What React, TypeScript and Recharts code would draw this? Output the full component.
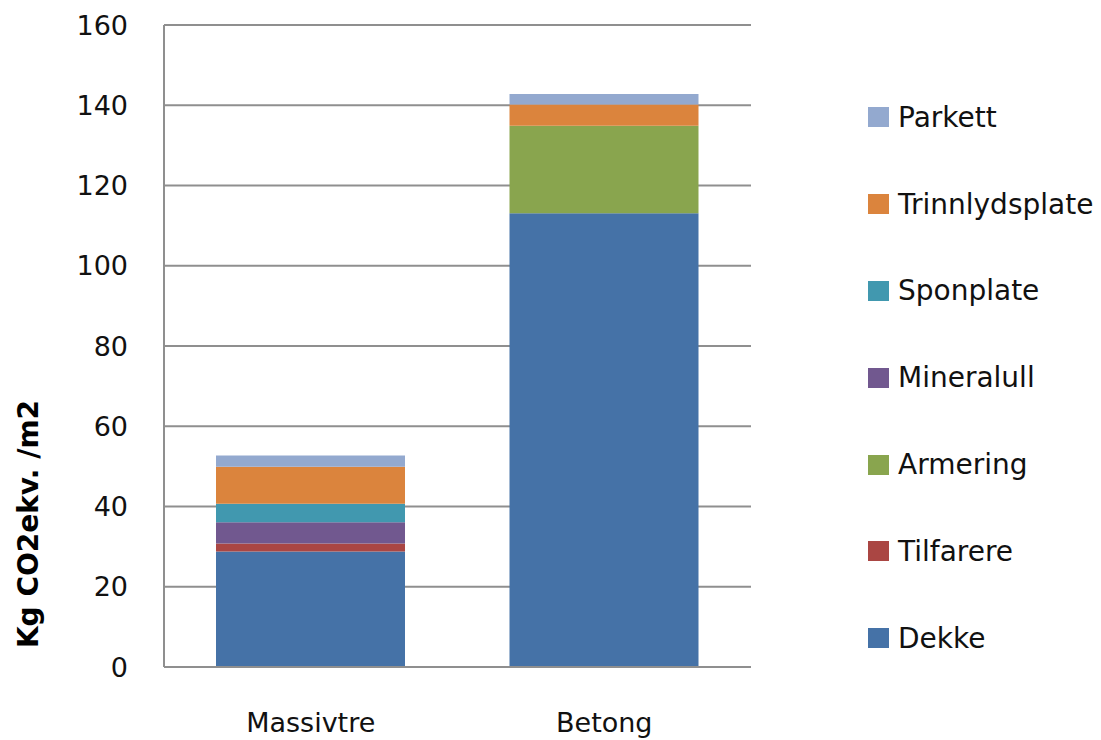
import React from 'react';
import {
  BarChart,
  Bar,
  XAxis,
  YAxis,
  CartesianGrid,
} from 'recharts';

const categories = ['Massivtre', 'Betong'];
const dekke = [28.8, 113.1];
const tilfarere = [2.0, 0];
const armering = [0, 21.8];
const mineralull = [5.3, 0];
const sponplate = [4.6, 0];
const trinnlydsplate = [9.2, 5.3];
const parkett = [2.8, 2.6];
const yTicks = [0, 20, 40, 60, 80, 100, 120, 140, 160];

// bottom to top in the stack
const series = [
  { key: 'Dekke', values: dekke, color: '#4572A7' },
  { key: 'Tilfarere', values: tilfarere, color: '#AA4643' },
  { key: 'Armering', values: armering, color: '#89A54E' },
  { key: 'Mineralull', values: mineralull, color: '#71588F' },
  { key: 'Sponplate', values: sponplate, color: '#4198AF' },
  { key: 'Trinnlydsplate', values: trinnlydsplate, color: '#DB843D' },
  { key: 'Parkett', values: parkett, color: '#93A9CF' },
];

const data = categories.map((name, i) => {
  const row: Record<string, string | number> = { name };
  series.forEach((s) => {
    row[s.key] = s.values[i];
  });
  return row;
});

const font = '"DejaVu Sans", Verdana, sans-serif';
const gridColor = '#8f8f8f';

const LegendBox = () => (
  <div
    style={{
      position: 'absolute',
      left: 868,
      top: 74,
      fontFamily: font,
      fontSize: 28,
      color: '#111',
    }}
  >
    {[...series].reverse().map((s) => (
      <div
        key={s.key}
        style={{ height: 86.8, display: 'flex', alignItems: 'center' }}
      >
        <span
          style={{
            width: 21,
            height: 20,
            background: s.color,
            display: 'inline-block',
            marginRight: 9,
          }}
        />
        <span>{s.key}</span>
      </div>
    ))}
  </div>
);

const YLabel = () => (
  <text
    x={38}
    y={524}
    transform="rotate(-90 38 524)"
    textAnchor="middle"
    fontFamily={font}
    fontWeight="bold"
    fontSize={28}
    fill="#000"
  >
    Kg CO2ekv. /m2
  </text>
);

export default function App() {
  return (
    <div
      style={{
        position: 'absolute',
        left: 0,
        top: 0,
        width: 1101,
        height: 740,
        background: '#fff',
      }}
    >
      <BarChart
        width={1101}
        height={740}
        data={data}
        margin={{ top: 25, right: 350, bottom: 0, left: 64 }}
        barSize={189}
      >
        <CartesianGrid
          vertical={false}
          stroke={gridColor}
          strokeWidth={2}
        />
        <XAxis
          dataKey="name"
          tickLine={false}
          tickSize={0}
          tickMargin={46}
          axisLine={{ stroke: gridColor, strokeWidth: 2 }}
          tick={{ fill: '#111', fontSize: 27, fontFamily: font }}
          height={73}
        />
        <YAxis
          width={100}
          domain={[0, 160]}
          ticks={yTicks}
          tickLine={false}
          tickSize={0}
          tickMargin={36}
          axisLine={{ stroke: gridColor, strokeWidth: 2 }}
          tick={{ fill: '#111', fontSize: 27, fontFamily: font }}
          label={{ content: () => <YLabel /> }}
        />
        {series.map((s) => (
          <Bar
            key={s.key}
            dataKey={s.key}
            stackId="a"
            fill={s.color}
            isAnimationActive={false}
          />
        ))}
      </BarChart>
      <LegendBox />
    </div>
  );
}
